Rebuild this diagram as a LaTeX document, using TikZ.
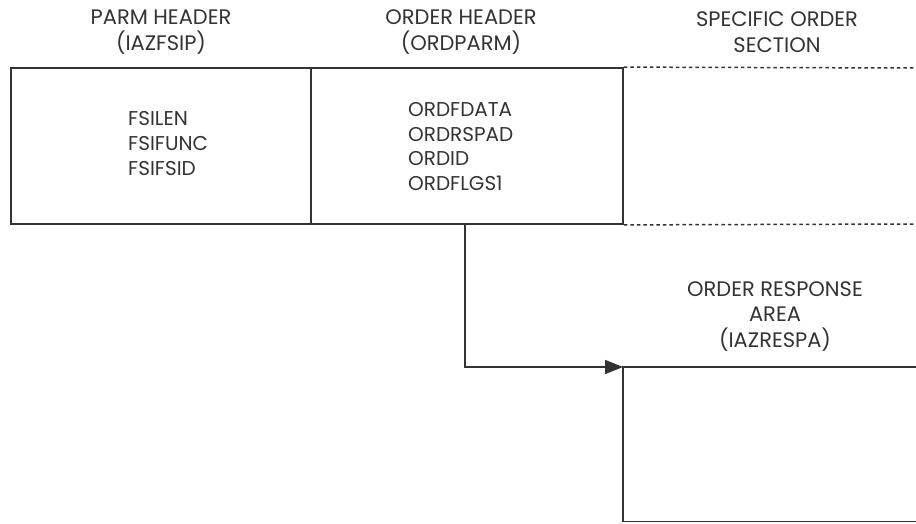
\documentclass[tikz,border=0pt]{standalone}
\usepackage{fontspec}
\setmainfont{Poppins}
\usetikzlibrary{arrows.meta}
\definecolor{ink}{HTML}{333333}
\tikzset{
  lbl/.style={text=ink, font=\fontsize{21}{25.5}\selectfont, align=center, inner sep=0pt},
  fld/.style={text=ink, font=\fontsize{20}{24.6}\selectfont, align=left, inner sep=0pt},
  boxline/.style={draw=ink, line width=1.8pt},
  dashline/.style={draw=ink, line width=1.5pt, dash pattern=on 3.5pt off 3pt},
  conn/.style={draw=ink, line width=1.8pt, -{Triangle[length=18pt,width=14pt]}}
}
\begin{document}
\begin{tikzpicture}[x=1pt,y=-1pt]
\useasboundingbox (0,0) rectangle (916,523);
% boxes
\node[boxline, minimum width=300pt, minimum height=156pt, inner sep=0pt] (parm) at (161,146) {};
\node[boxline, minimum width=312pt, minimum height=156pt, inner sep=0pt] (ord) at (467,146) {};
% titles
\node[lbl] (t1) at (161,32) {PARM HEADER\\(IAZFSIP)};
\node[lbl] (t2) at (461,32) {ORDER HEADER\\(ORDPARM)};
\node[lbl] (t3) at (777,32) {SPECIFIC ORDER\\SECTION};
% fields
\node[fld, anchor=west] (f1) at (128,143.5) {FSILEN\\FSIFUNC\\FSIFSID};
\node[fld, anchor=west] (f2) at (408,146.5) {ORDFDATA\\ORDRSPAD\\ORDID\\ORDFLGS1};
% dashed specific section
\coordinate (sTopEnd) at (916,68);
\coordinate (sBotEnd) at (916,224);
\draw[dashline] (ord.north east) -- (sTopEnd);
\draw[dashline] (ord.south east) -- (sBotEnd);
% response area
\coordinate (resp) at (623,367);
\coordinate (respTR) at (916,367);
\coordinate (respBL) at (623,521.5);
\coordinate (respBR) at (916,521.5);
\draw[boxline] (respTR) -- (resp) -- (respBL) -- (respBR);
\node[lbl] (t4) at (775,316.5) {ORDER RESPONSE\\AREA\\(IAZRESPA)};
% connector
\coordinate (start) at (465,224);
\draw[conn] (start) |- (resp);
\end{tikzpicture}
\end{document}
